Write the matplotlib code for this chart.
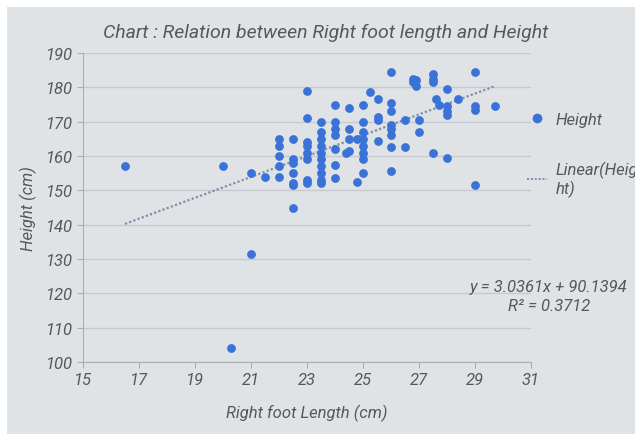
"""Scatter of right foot length against height, with linear trend line."""

import matplotlib

matplotlib.use("Agg")
import matplotlib.pyplot as plt
from matplotlib.lines import Line2D
from matplotlib.patches import Rectangle
import numpy as np

plt.rcParams["font.family"] = ["Roboto", "DejaVu Sans"]

# values, grouped by foot length column
foot_length = (
    [16.5, 20.0, 20.3, 21.0, 21.0, 21.5]
    + [22.0] * 5
    + [22.5] * 7
    + [23.0] * 8
    + [23.5] * 10
    + [24.0] * 7
    + [24.5] * 4
    + [24.4, 24.8, 24.8]
    + [25.0] * 8
    + [25.25]
    + [25.55] * 4
    + [26.0] * 8
    + [26.5] * 2
    + [26.8, 26.8, 26.9, 26.9, 27.0, 27.0]
    + [27.5] * 4
    + [27.6, 27.7]
    + [28.0] * 5
    + [28.4]
    + [29.0] * 4
    + [29.7]
)
height = (
    [157, 157, 104, 131.5, 155, 154]
    + [165, 163, 160, 157, 154]
    + [165, 159, 158, 155, 152, 151.5, 145]
    + [179, 171, 164, 163, 161, 159, 153, 152]
    + [170, 167, 165, 163, 161, 159, 157, 155, 153, 152]
    + [175, 170, 168, 166, 162, 157.5, 153.5]
    + [174, 168, 165, 161.5]
    + [161, 165, 152.5]
    + [175, 170, 167, 165, 163, 161, 159, 155]
    + [178.5]
    + [176.5, 171.5, 170.5, 164.5]
    + [184.5, 175.5, 173, 169, 168, 166, 162.5, 155.5]
    + [170.5, 162.5]
    + [182.5, 181.5, 182, 180.5, 170.5, 167]
    + [184, 182.5, 181.5, 161]
    + [176.5, 175]
    + [179.5, 174.5, 173, 172, 159.5]
    + [176.5]
    + [184.5, 174.5, 173.5, 151.5]
    + [174.5]
)

slope = 3.0361
intercept = 90.1394
r_squared = 0.3712

x_ticks = [15, 17, 19, 21, 23, 25, 27, 29, 31]
y_ticks = [100, 110, 120, 130, 140, 150, 160, 170, 180, 190]

bg = "#e0e3e6"
text_color = "#55585d"
dot_color = "#3a72d8"
trend_color = "#7f8ea8"

fig = plt.figure(figsize=(6.35, 4.35), dpi=100, facecolor="white")
fig.patches.append(
    Rectangle((7 / 635, 0), 1, 1 - 8 / 435, transform=fig.transFigure,
              facecolor=bg, edgecolor="none", zorder=-10)
)
ax = fig.add_axes([83 / 635, 1 - 363 / 435, 448 / 635, 309 / 435])
ax.set_facecolor(bg)

ax.scatter(foot_length, height, s=40, color=dot_color, zorder=3, linewidths=0)

xs = np.array([min(foot_length), max(foot_length)])
ax.plot(xs, slope * xs + intercept, linestyle=(0, (1, 1)), color=trend_color,
        linewidth=1.6, zorder=2)

ax.set_xlim(15, 31)
ax.set_ylim(100, 190)
ax.set_xticks(x_ticks)
ax.set_yticks(y_ticks)
ax.grid(axis="y", color="#c6c9cd", linewidth=1)
ax.set_axisbelow(True)
for side in ["top", "right"]:
    ax.spines[side].set_visible(False)
for side in ["left", "bottom"]:
    ax.spines[side].set_color("#a9acb0")
ax.tick_params(colors="#a9acb0", labelcolor=text_color, labelsize=12, length=4)
for lab in ax.get_xticklabels() + ax.get_yticklabels():
    lab.set_style("italic")

ax.set_xlabel("Right foot Length (cm)", fontsize=12, style="italic",
              color=text_color, labelpad=12)
ax.set_ylabel("Height (cm)", fontsize=12, style="italic", color=text_color,
              labelpad=6)
fig.text(0.513, 0.924, "Chart : Relation between Right foot length and Height",
         ha="center", va="center", fontsize=14, style="italic", color=text_color)

# legend sits outside the plot area, on the right
fig.legend(
    [
        Line2D([], [], marker="o", linestyle="none", color=dot_color, markersize=6),
        Line2D([], [], linestyle=(0, (1, 1)), color=trend_color, linewidth=1.4),
    ],
    ["Height", "Linear(Heig\nht)"],
    loc="upper left", bbox_to_anchor=(512 / 635, 1 - 98 / 435), frameon=False,
    labelspacing=2.0, handlelength=1.2, handletextpad=0.5,
    labelcolor=text_color, prop={"style": "italic", "size": 12},
)

fig.text(549 / 635, 1 - 297 / 435,
         f"y = {slope}x + {intercept}\nR\u00b2 = {r_squared}",
         ha="center", va="center", fontsize=12, style="italic",
         color=text_color, linespacing=1.4)

fig.savefig("out.png", dpi=100, facecolor=fig.get_facecolor())
